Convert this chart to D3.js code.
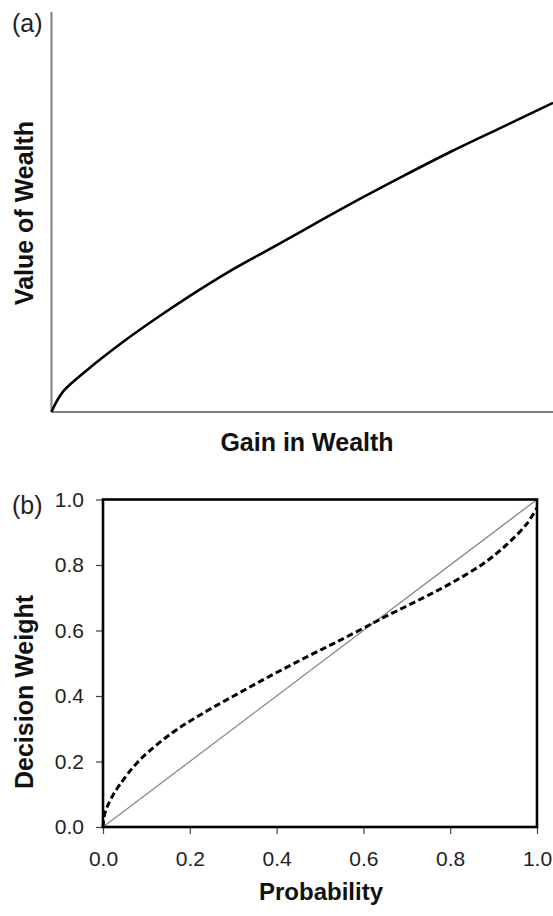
<!DOCTYPE html>
<html><head><meta charset="utf-8">
<script src="https://cdn.jsdelivr.net/npm/d3@7"></script>
<style>body{margin:0;background:#fff}svg{display:block}</style>
</head><body><svg id="c" width="553" height="916"></svg>
<script>
// Panel (a): value function (arbitrary units)
const gainX  = [0, 1, 2.5, 7, 13.7, 20.4, 28.3, 35, 44.3, 52.3, 60.2, 70, 79.5, 90, 100];
const valueY = [0, 2.6, 5.4, 10.4, 17, 23, 29.6, 34.8, 41.3, 46.9, 52.4, 58.9, 65, 71.3, 77.3];
// Panel (b): probability weighting
const probX   = [0, 0.004, 0.016, 0.039, 0.085, 0.162, 0.239, 0.316, 0.392, 0.469, 0.54, 0.607, 0.638, 0.723, 0.80, 0.876, 0.93, 0.976, 1.0];
const weightY = [0, 0.04, 0.08, 0.13, 0.205, 0.29, 0.354, 0.411, 0.466, 0.519, 0.566, 0.612, 0.634, 0.69, 0.743, 0.804, 0.862, 0.925, 0.975];
const diagX = [0, 1];
const diagY = [0, 1];
const ticksB = [0, 0.2, 0.4, 0.6, 0.8, 1.0];

const svg = d3.select("#c");
const FONT = "'Liberation Sans', Arial, sans-serif";

// ---- Panel (a)
const xa = d3.scaleLinear().domain([0, 100]).range([51.5, 553]);
const ya = d3.scaleLinear().domain([0, 100]).range([412, 12]);
const ga = svg.append("g");
ga.append("line").attr("x1", xa(0)).attr("x2", xa(0)).attr("y1", ya(100)).attr("y2", ya(0))
  .attr("stroke", "#808080").attr("stroke-width", 2);
ga.append("line").attr("x1", xa(0)).attr("x2", 553).attr("y1", ya(0)).attr("y2", ya(0))
  .attr("stroke", "#808080").attr("stroke-width", 2);
ga.append("path").datum(gainX.map((d, i) => [d, valueY[i]]))
  .attr("fill", "none").attr("stroke", "#000").attr("stroke-width", 2.6)
  .attr("d", d3.line().x(d => xa(d[0])).y(d => ya(d[1])).curve(d3.curveCatmullRom.alpha(0.5)));
svg.append("text").attr("x", 12).attr("y", 32).text("(a)")
  .attr("font-family", FONT).attr("font-size", 25).attr("fill", "#222");
svg.append("text").attr("x", 307).attr("y", 451).attr("text-anchor", "middle").text("Gain in Wealth")
  .attr("font-family", FONT).attr("font-size", 25).attr("font-weight", "bold").attr("fill", "#111");
svg.append("text").attr("transform", "translate(33,213) rotate(-90)").attr("text-anchor", "middle").text("Value of Wealth")
  .attr("font-family", FONT).attr("font-size", 25).attr("font-weight", "bold").attr("fill", "#111");

// ---- Panel (b)
const xb = d3.scaleLinear().domain([0, 1]).range([103, 537]);
const yb = d3.scaleLinear().domain([0, 1]).range([827, 499.5]);
const gb = svg.append("g");
const axL = gb.append("g").attr("transform", `translate(${xb(0)},0)`)
  .call(d3.axisLeft(yb).tickValues(ticksB).tickFormat(d3.format(".1f")).tickSize(7).tickPadding(12));
const axB = gb.append("g").attr("transform", `translate(0,${yb(0)})`)
  .call(d3.axisBottom(xb).tickValues(ticksB).tickFormat(d3.format(".1f")).tickSize(7).tickPadding(17));
[axL, axB].forEach(a => {
  a.select(".domain").remove();
  a.selectAll(".tick line").attr("stroke", "#444").attr("stroke-width", 1.2);
  a.selectAll(".tick text").attr("font-family", FONT).attr("font-size", 21).attr("fill", "#222");
});
gb.append("path").datum(diagX.map((d, i) => [d, diagY[i]]))
  .attr("fill", "none").attr("stroke", "#888").attr("stroke-width", 1.3)
  .attr("d", d3.line().x(d => xb(d[0])).y(d => yb(d[1])));
gb.append("path").datum(probX.map((d, i) => [d, weightY[i]]))
  .attr("fill", "none").attr("stroke", "#000").attr("stroke-width", 3).attr("stroke-dasharray", "6.5,3.5")
  .attr("d", d3.line().x(d => xb(d[0])).y(d => yb(d[1])).curve(d3.curveCatmullRom.alpha(0.5)));
gb.append("rect").attr("x", xb(0)).attr("y", yb(1)).attr("width", xb(1) - xb(0)).attr("height", yb(0) - yb(1))
  .attr("fill", "none").attr("stroke", "#000").attr("stroke-width", 2.6);
svg.append("text").attr("x", 12).attr("y", 514).text("(b)")
  .attr("font-family", FONT).attr("font-size", 25).attr("fill", "#222");
svg.append("text").attr("x", 321).attr("y", 900).attr("text-anchor", "middle").text("Probability")
  .attr("font-family", FONT).attr("font-size", 24).attr("font-weight", "bold").attr("fill", "#111");
svg.append("text").attr("transform", "translate(33,692) rotate(-90)").attr("text-anchor", "middle").text("Decision Weight")
  .attr("font-family", FONT).attr("font-size", 25).attr("font-weight", "bold").attr("fill", "#111");
</script></body></html>
